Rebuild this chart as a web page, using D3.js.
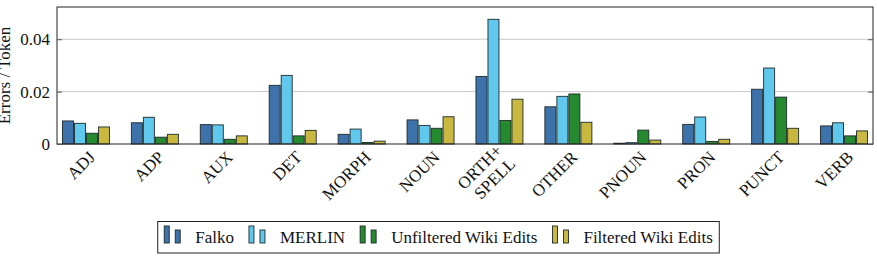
<!DOCTYPE html>
<html><head><meta charset="utf-8">
<script src="https://cdn.jsdelivr.net/npm/d3@7"></script>
<style>body{margin:0;background:#fff}svg{display:block}svg text{font-family:"Liberation Serif","Times New Roman",serif !important;fill:#111}</style>
</head><body><svg id="c" width="877" height="256"></svg>
<script>
const categories = ["ADJ","ADP","AUX","DET","MORPH","NOUN","ORTH+\nSPELL","OTHER","PNOUN","PRON","PUNCT","VERB"];
const seriesNames = ["Falko","MERLIN","Unfiltered Wiki Edits","Filtered Wiki Edits"];
const seriesColors = ["#3e72aa","#5fc8ec","#24892f","#c9b83f"];
const falko      = [0.0088,0.0081,0.0074,0.0224,0.0037,0.0092,0.0258,0.0142,0.0003,0.0075,0.0209,0.0069];
const merlin     = [0.0079,0.0102,0.0073,0.0262,0.0057,0.0071,0.0476,0.0182,0.0005,0.0103,0.0290,0.0081];
const unfiltered = [0.0041,0.0026,0.0018,0.0031,0.0006,0.0060,0.0090,0.0191,0.0053,0.0010,0.0179,0.0031];
const filtered   = [0.0065,0.0037,0.0031,0.0052,0.0011,0.0104,0.0171,0.0083,0.0015,0.0018,0.0060,0.0050];
const yTicks = [0, 0.02, 0.04];
const yTickLabels = ["0","0.02","0.04"];
const yLabel = "Errors / Token";
const seriesValues = [falko, merlin, unfiltered, filtered];

const FONT = '"Liberation Serif","Times New Roman",serif';
const svg = d3.select("#c");
const L = 57, R = 873, T = 7, B = 144;
const x = d3.scalePoint().domain(categories).range([L, R]).padding(0.42);
const y = d3.scaleLinear().domain([0, 0.0523]).range([B, T]);
const barW = 12;
const xs = d3.scaleBand().domain(d3.range(4)).range([-2*barW, 2*barW]).padding(0);

// grid
svg.append("g").selectAll("line").data(yTicks.filter(d=>d>0)).join("line")
  .attr("x1", L).attr("x2", R).attr("y1", d=>y(d)).attr("y2", d=>y(d))
  .attr("stroke", "#c8c8c8").attr("stroke-width", 1);

// bars
const g = svg.append("g");
categories.forEach((c, i) => {
  seriesValues.forEach((vals, s) => {
    g.append("rect")
      .attr("x", x(c) + xs(s) + 0.5)
      .attr("y", y(vals[i]))
      .attr("width", barW - 1)
      .attr("height", Math.max(0, B - y(vals[i])))
      .attr("fill", seriesColors[s])
      .attr("stroke", "#1e2a2a").attr("stroke-width", 0.9);
  });
});

// frame
svg.append("rect").attr("x", L).attr("y", T).attr("width", R-L).attr("height", B-T)
  .attr("fill", "none").attr("stroke", "#222").attr("stroke-width", 1);

// y axis ticks (inside, both sides)
const yAxis = d3.axisLeft(y).tickValues(yTicks).tickFormat((d,i)=>yTickLabels[i]).tickSize(-5).tickPadding(7);
const ya = svg.append("g").attr("transform", `translate(${L},0)`).call(yAxis);
ya.attr("font-family", FONT).attr("font-size", 17);
ya.select(".domain").remove();
ya.selectAll("line").attr("stroke", "#555");
ya.selectAll("text").attr("font-size", 17).attr("font-family", FONT).attr("fill", "#111");
const yr = svg.append("g").attr("transform", `translate(${R},0)`).call(d3.axisRight(y).tickValues(yTicks).tickSize(-5).tickFormat(""));
yr.select(".domain").remove();
yr.selectAll("line").attr("stroke", "#555");

// x labels
categories.forEach(c => {
  const lines = c.split("\n");
  const t = svg.append("text")
    .attr("transform", `translate(${x(c)+6},${B+10}) rotate(-45)`)
    .attr("text-anchor", "end").attr("font-size", 17).attr("font-family", FONT);
  lines.forEach((ln, k) => {
    t.append("tspan").attr("x", 0)
      .attr("dy", k === 0 ? (0.35 - (lines.length-1)*0.55) + "em" : "1.1em")
      .text(ln);
  });
});

// y label
svg.append("text").attr("transform", `translate(10,${(T+B)/2}) rotate(-90)`)
  .attr("text-anchor", "middle").attr("font-size", 17).attr("font-family", FONT).text(yLabel);

// legend
const legendBox = svg.append("rect");
const lg = svg.append("g");
let cx = 0;
seriesNames.forEach((n, s) => {
  const it = lg.append("g").attr("transform", `translate(${cx},0)`);
  it.append("rect").attr("x", 0).attr("y", -17).attr("width", 5).attr("height", 17)
    .attr("fill", seriesColors[s]).attr("stroke", "#1e2a2a").attr("stroke-width", 0.9);
  it.append("rect").attr("x", 11).attr("y", -13).attr("width", 5).attr("height", 13)
    .attr("fill", seriesColors[s]).attr("stroke", "#1e2a2a").attr("stroke-width", 0.9);
  const tx = it.append("text").attr("x", 31).attr("y", 0).attr("font-size", 17).attr("font-family", FONT).text(n);
  const w = tx.node().getComputedTextLength();
  cx += 31 + w + 15;
});
const totalW = cx - 15;
const pad = 6.5;
const boxW = totalW + 2*pad;
const boxL = 877/2 - boxW/2;
lg.attr("transform", `translate(${boxL + pad},243)`);
legendBox.attr("x", boxL).attr("y", 221.5).attr("width", boxW).attr("height", 31.5)
  .attr("fill", "#fff").attr("stroke", "#222").attr("stroke-width", 1);
</script></body></html>
